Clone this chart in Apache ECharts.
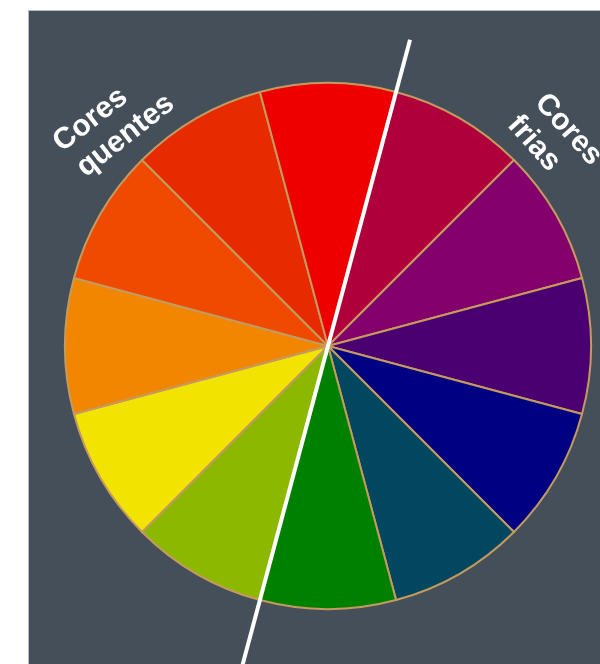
<!DOCTYPE html>
<html>
<head>
<meta charset="utf-8">
<script src="https://cdn.jsdelivr.net/npm/echarts@6/dist/echarts.min.js"></script>
<style>
  html, body { margin: 0; padding: 0; background: #ffffff; }
  #chart { width: 600px; height: 664px; }
</style>
</head>
<body>
<div id="chart"></div>
<script>
// ---- data ----
const categories = ['Carmim', 'Púrpura', 'Índigo', 'Azul-marinho', 'Azul-petróleo', 'Verde',
                    'Verde-amarelado', 'Amarelo', 'Laranja', 'Laranja-avermelhado', 'Vermelho-alaranjado', 'Vermelho'];
const values = [1, 1, 1, 1, 1, 1, 1, 1, 1, 1, 1, 1];
const colors = ['#b0003c', '#84006a', '#4a0070', '#000082', '#02465f', '#008000',
                '#8cb800', '#f2e400', '#f28600', '#f04a00', '#e82a00', '#ee0000'];
const warmLabel = ['Cores', 'quentes'];
const coolLabel = ['Cores', 'frias'];

// ---- layout ----
const CX = 328, CY = 346, R = 263;
const lineAngle = 15 * Math.PI / 180;   // from vertical, clockwise
const lineTop = 317, lineBottom = 345;

const chart = echarts.init(document.getElementById('chart'), null, { renderer: 'canvas' });

const font = 'bold 30px "Liberation Sans", Arial, sans-serif';
function textEl(str, x, y) {
  return { type: 'text', x: x, y: y,
           style: { text: str, fill: '#ffffff', font: font, align: 'left', verticalAlign: 'middle' } };
}

chart.setOption({
  animation: false,
  backgroundColor: '#ffffff',
  graphic: [
    { type: 'rect', z: -10, shape: { x: 28.5, y: 10.5, width: 580, height: 670 },
      style: { fill: '#444f5a', stroke: '#b8bcc0', lineWidth: 1 } },
    { type: 'line', z: 100,
      shape: { x1: CX + lineTop * Math.sin(lineAngle), y1: CY - lineTop * Math.cos(lineAngle),
               x2: CX - lineBottom * Math.sin(lineAngle), y2: CY + lineBottom * Math.cos(lineAngle) },
      style: { stroke: '#ffffff', lineWidth: 4 } },
    { type: 'group', z: 100, x: 57, y: 146, rotation: 38 * Math.PI / 180,
      children: [ textEl(warmLabel[0], 0, 0), textEl(warmLabel[1], 3, 34) ] },
    { type: 'group', z: 100, x: 540, y: 98, rotation: -48 * Math.PI / 180,
      children: [ textEl(coolLabel[0], 0, 0), textEl(coolLabel[1], -2, 35) ] }
  ],
  series: [{
    type: 'pie',
    center: [CX, CY],
    radius: R,
    startAngle: 75,
    clockwise: true,
    silent: true,
    label: { show: false },
    labelLine: { show: false },
    itemStyle: { borderColor: '#c49a5e', borderWidth: 2 },
    data: categories.map((c, i) => ({ name: c, value: values[i], itemStyle: { color: colors[i] } }))
  }]
});
</script>
</body>
</html>
